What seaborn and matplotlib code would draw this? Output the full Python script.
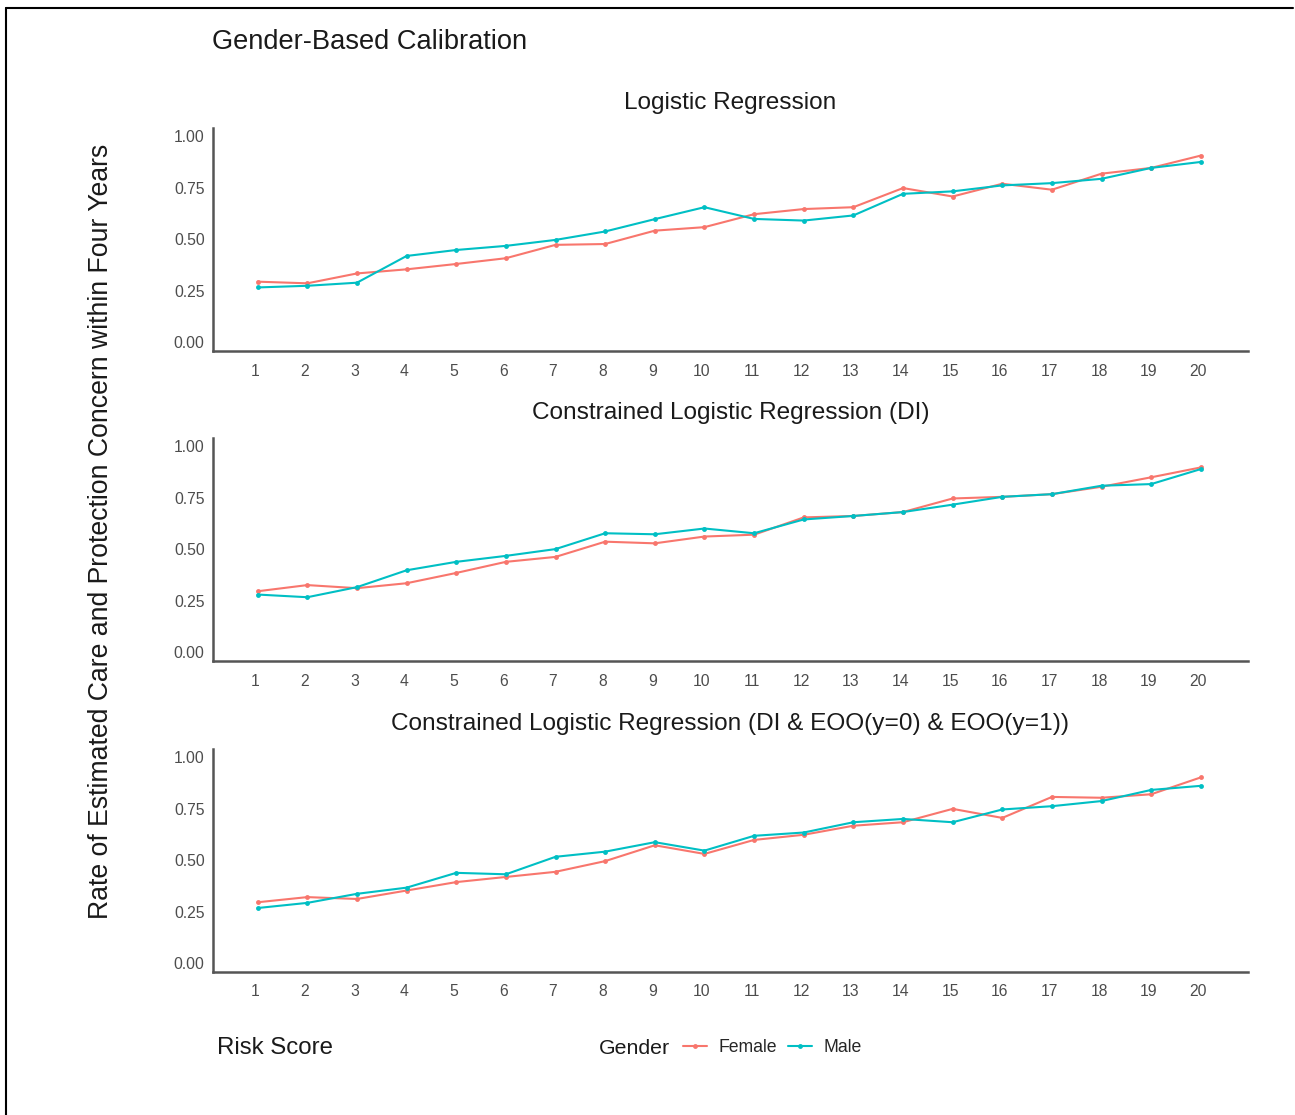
import matplotlib
matplotlib.use("Agg")
import matplotlib.pyplot as plt
from matplotlib.lines import Line2D
import matplotlib.transforms as mtransforms
import numpy as np
import pandas as pd
import seaborn as sns

# ---------------- data ----------------
risk_scores = list(range(1, 21))
genders = ["Female", "Male"]
panel_titles = [
    "Logistic Regression",
    "Constrained Logistic Regression (DI)",
    "Constrained Logistic Regression (DI & EOO(y=0) & EOO(y=1))",
]

lr_female = [0.293, 0.285, 0.333, 0.353, 0.379, 0.407, 0.472, 0.476, 0.541, 0.558,
             0.621, 0.646, 0.655, 0.748, 0.707, 0.769, 0.740, 0.818, 0.846, 0.906]
lr_male = [0.265, 0.273, 0.288, 0.418, 0.447, 0.467, 0.496, 0.537, 0.597, 0.655,
           0.598, 0.590, 0.615, 0.720, 0.732, 0.761, 0.772, 0.793, 0.846, 0.875]

di_female = [0.295, 0.325, 0.310, 0.334, 0.384, 0.438, 0.462, 0.536, 0.528, 0.561,
             0.570, 0.654, 0.661, 0.680, 0.746, 0.754, 0.767, 0.803, 0.849, 0.897]
di_male = [0.279, 0.266, 0.315, 0.397, 0.438, 0.467, 0.500, 0.577, 0.572, 0.600,
           0.577, 0.644, 0.661, 0.680, 0.716, 0.754, 0.767, 0.808, 0.816, 0.889]

eoo_female = [0.295, 0.320, 0.311, 0.352, 0.393, 0.418, 0.443, 0.495, 0.572, 0.530,
              0.598, 0.623, 0.667, 0.684, 0.749, 0.705, 0.807, 0.803, 0.820, 0.902]
eoo_male = [0.267, 0.292, 0.336, 0.366, 0.438, 0.431, 0.516, 0.541, 0.587, 0.546,
            0.618, 0.634, 0.684, 0.700, 0.684, 0.746, 0.762, 0.787, 0.841, 0.861]

y_ticks = [0.00, 0.25, 0.50, 0.75, 1.00]
y_ticklabels = ["0.00", "0.25", "0.50", "0.75", "1.00"]

# ---------------- style ----------------
sns.set_theme(style="white")
plt.rcParams['font.family'] = ['Liberation Sans', 'DejaVu Sans']

W, H = 1295, 1115
fig = plt.figure(figsize=(W / 100, H / 100), dpi=100)
fig.patch.set_facecolor("white")

palette = {"Female": "#F8766D", "Male": "#00BFC4"}
tick_color = "#4d4d4d"
spine_color = "#555555"
text_color = "#1a1a1a"

left = 213 / W
width = (1248 - 213) / W
tops = [128, 438, 749]
height = 223 / H

panels = [(lr_female, lr_male), (di_female, di_male), (eoo_female, eoo_male)]

for i, (title, (fem, mal)) in enumerate(zip(panel_titles, panels)):
    bottom = 1 - (tops[i] + 223) / H
    ax = fig.add_axes([left, bottom, width, height])
    df = pd.DataFrame({
        "Risk Score": risk_scores * 2,
        "Rate": fem + mal,
        "Gender": [genders[0]] * len(fem) + [genders[1]] * len(mal),
    })
    sns.lineplot(data=df, x="Risk Score", y="Rate", hue="Gender",
                 hue_order=genders, palette=palette, marker="o",
                 markersize=3.5, markeredgewidth=0, linewidth=1.5,
                 ax=ax, legend=False)
    ax.set_xlim(0.1, 20.95)
    ax.set_ylim(-0.044, 1.04)
    ax.set_xticks(risk_scores)
    ax.set_xticklabels([str(r) for r in risk_scores])
    ax.set_yticks(y_ticks)
    ax.set_yticklabels(y_ticklabels)
    ax.tick_params(axis="both", length=0, labelsize=11.3, labelcolor=tick_color)
    ax.tick_params(axis="x", pad=9)
    ax.tick_params(axis="y", pad=6)
    shift = mtransforms.ScaledTranslation(-2.5 / 100, 0, fig.dpi_scale_trans)
    for lab in ax.get_xticklabels():
        lab.set_transform(lab.get_transform() + shift)
    ax.set_xlabel("")
    ax.set_ylabel("")
    for s in ["top", "right"]:
        ax.spines[s].set_visible(False)
    for s in ["left", "bottom"]:
        ax.spines[s].set_visible(True)
        ax.spines[s].set_color(spine_color)
        ax.spines[s].set_linewidth(1.8)
    ax.set_title(title, fontsize=17.6, color=text_color, pad=14)
    ax.grid(False)

# overall title
fig.text(212 / W, 1 - 42 / H, "Gender-Based Calibration", fontsize=19.6,
         color=text_color, ha="left", va="center")
# y label
fig.text(101 / W, 1 - 531 / H,
         "Rate of Estimated Care and Protection Concern within Four Years",
         fontsize=19.2, color=text_color, rotation=90, ha="center", va="center")
# x label
fig.text(217 / W, 1 - 1048 / H, "Risk Score", fontsize=17.3, color=text_color,
         ha="left", va="center")

# legend
fig.text(599 / W, 1 - 1049 / H, "Gender", fontsize=15.3, color=text_color,
         ha="left", va="center")
handles = [Line2D([], [], color=palette[g], lw=1.5, marker="o", markersize=3.5,
                  markeredgewidth=0) for g in genders]
fig.legend(handles, genders, loc="center left",
           bbox_to_anchor=(683 / W, 1 - 1048 / H), ncol=2, frameon=False,
           fontsize=12.7, handlelength=1.35, handletextpad=0.65,
           columnspacing=0.65, borderpad=0, borderaxespad=0)

# frame lines (top and left)
fig.add_artist(Line2D([6 / W, 1293 / W], [1 - 8 / H, 1 - 8 / H],
                      transform=fig.transFigure, color="black", lw=1.5))
fig.add_artist(Line2D([6 / W, 6 / W], [0, 1 - 8 / H],
                      transform=fig.transFigure, color="black", lw=1.5))

fig.savefig("out.png", dpi=100)
